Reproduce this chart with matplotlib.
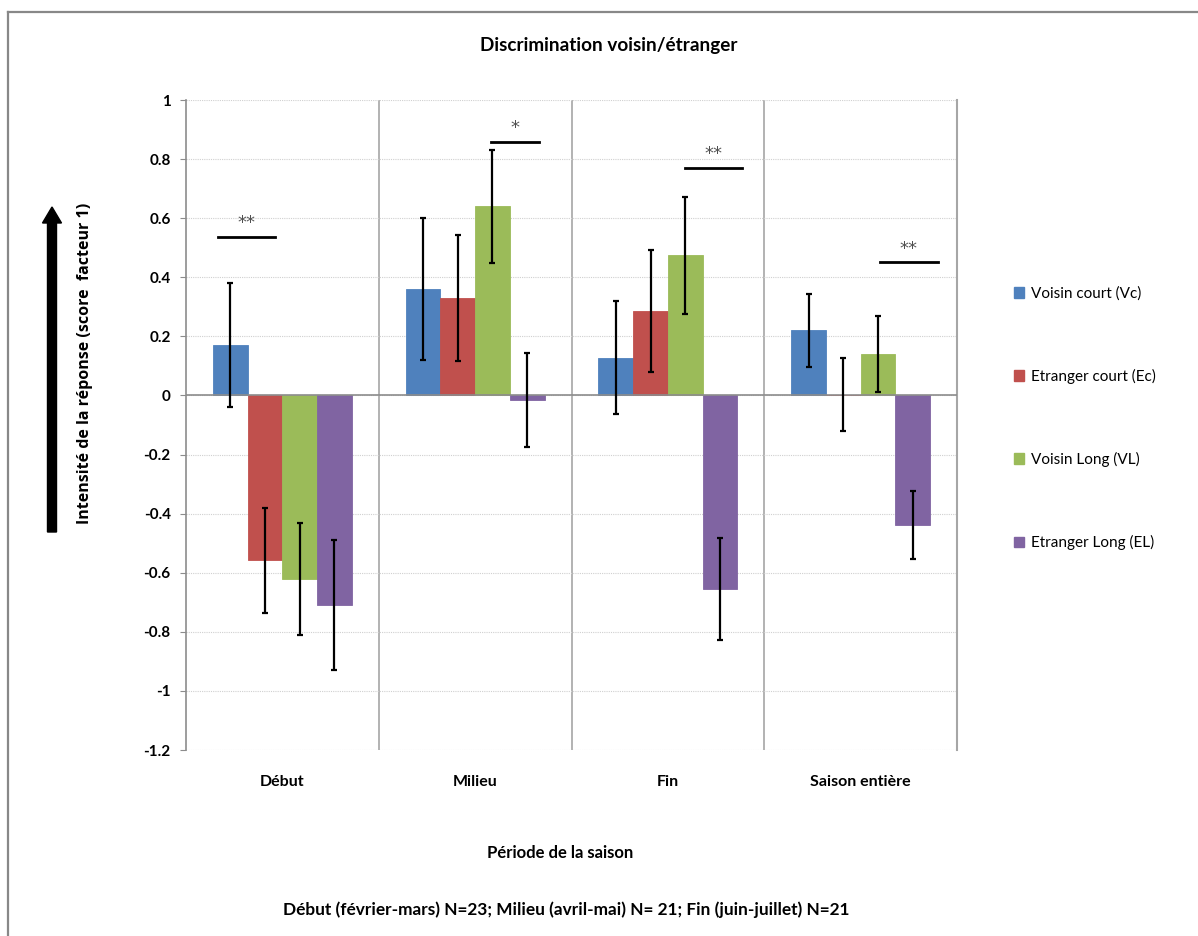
import numpy as np
import matplotlib
matplotlib.use("Agg")
import matplotlib.pyplot as plt
from matplotlib.lines import Line2D
from matplotlib.patches import Patch, FancyArrow

plt.rcParams["font.family"] = ["Lato", "DejaVu Sans"]

periods = ["Début", "Milieu", "Fin", "Saison entière"]
series_names = ["Voisin court (Vc)", "Etranger court (Ec)", "Voisin Long (VL)", "Etranger Long (EL)"]
colors = ["#4F81BD", "#C0504D", "#9BBB59", "#8064A2"]

# mean score per period, one list per series
voisin_court = [0.172, 0.36, 0.128, 0.22]
etranger_court = [-0.558, 0.33, 0.286, 0.003]
voisin_long = [-0.62, 0.64, 0.475, 0.141]
etranger_long = [-0.71, -0.015, -0.654, -0.438]

# error bar half-lengths
err_voisin_court = [0.21, 0.24, 0.192, 0.123]
err_etranger_court = [0.177, 0.213, 0.207, 0.123]
err_voisin_long = [0.19, 0.19, 0.198, 0.129]
err_etranger_long = [0.22, 0.16, 0.172, 0.116]

# significance marks: (period index, label, level)
sig_periods = [0, 1, 2, 3]
sig_labels = ["**", "*", "**", "**"]
sig_levels = [0.538, 0.859, 0.771, 0.451]

means = [voisin_court, etranger_court, voisin_long, etranger_long]
errors = [err_voisin_court, err_etranger_court, err_voisin_long, err_etranger_long]

fig = plt.figure(figsize=(11.98, 9.36), dpi=100)
ax = fig.add_axes([186 / 1198, 1 - 750 / 936, (957 - 186) / 1198, 650 / 936])

x = np.arange(len(periods))
width = 0.18
for i, (vals, errs, color) in enumerate(zip(means, errors, colors)):
    pos = x + (i - 1.5) * width
    ax.bar(pos, vals, width, color=color, edgecolor=color, linewidth=0.6,
           label=series_names[i], zorder=2)
    ax.errorbar(pos, vals, yerr=errs, fmt="none", ecolor="black",
                elinewidth=1.6, capsize=2.3, capthick=1.6, zorder=4)

# significance bars
sig_spans = [(-0.335, -0.04), (0.08, 0.33), (0.09, 0.385), (0.1, 0.4)]
for p, lab, lvl, (a, b) in zip(sig_periods, sig_labels, sig_levels, sig_spans):
    ax.plot([p + a, p + b], [lvl, lvl], color="black", lw=2, zorder=5)
    ax.text(p + (a + b) / 2, lvl + 0.015, lab, ha="center", va="bottom",
            fontsize=13, color="#505050", zorder=5, family=["DejaVu Sans"])

ax.set_xlim(-0.5, 3.5)
ax.set_ylim(-1.2, 1.0)
yt = np.round(np.arange(-1.2, 1.01, 0.2), 1) + 0.0
ax.set_yticks(yt)
ax.set_yticklabels([f"{v:g}" if v != 0 else "0" for v in yt])
ax.yaxis.grid(True, linestyle=(0, (1, 1)), color="#D0D0D0", lw=0.8, zorder=0)
ax.axhline(0, color="#8C8C8C", lw=1.2, zorder=3)
for b in [0.5, 1.5, 2.5]:
    ax.axvline(b, color="#A6A6A6", lw=1.2, zorder=1)

for side in ["top", "bottom"]:
    ax.spines[side].set_visible(False)
ax.spines["left"].set_color("#8C8C8C")
ax.spines["right"].set_color("#A6A6A6")
ax.spines["left"].set_linewidth(1.2)
ax.spines["right"].set_linewidth(1.5)

ax.tick_params(axis="y", length=4, color="#8C8C8C", pad=7, labelsize=11)
for t in ax.get_yticklabels():
    t.set_fontweight("bold")
ax.set_xticks([])
for xi, name in zip(x, periods):
    ax.text(xi, -1.31, name, ha="center", va="center", fontsize=11.5,
            fontweight="bold", transform=ax.transData)

fig.text(560 / 1198, 1 - 853 / 936, "Période de la saison", ha="center",
         va="center", fontsize=12, fontweight="bold")
fig.text(566 / 1198, 1 - 910 / 936,
         "Début (février-mars) N=23; Milieu (avril-mai) N= 21; Fin (juin-juillet) N=21",
         ha="center", va="center", fontsize=12.4, fontweight="bold")
fig.text(609 / 1198, 1 - 45 / 936, "Discrimination voisin/étranger", ha="center",
         va="center", fontsize=13.6, fontweight="bold")

fig.text(85 / 1198, 1 - 363 / 936, "Intensité de la réponse (score  facteur 1)",
         rotation=90, ha="center", va="center", fontsize=11.5, fontweight="bold",
         family=["Open Sans", "DejaVu Sans"])

# big arrow next to the y label
fig.patches.append(FancyArrow(52 / 1198, 1 - 532 / 936, 0, (532 - 207) / 936,
                              width=9 / 1198, head_width=19 / 1198,
                              head_length=16 / 936, length_includes_head=True,
                              color="black", transform=fig.transFigure))

handles = [Patch(facecolor=c, edgecolor=c) for c in colors]
fig.legend(handles, series_names, loc="upper left",
           bbox_to_anchor=(1000 / 1198, 1 - 273 / 936), frameon=False,
           fontsize=11, labelspacing=4.45, handlelength=0.7, handleheight=0.7,
           handletextpad=0.4)

# chart frame
fig.add_artist(Line2D([8 / 1198, 1], [1 - 12 / 936, 1 - 12 / 936], color="#888888",
                      lw=1.6, transform=fig.transFigure))
fig.add_artist(Line2D([8 / 1198, 8 / 1198], [0, 1 - 12 / 936], color="#888888",
                      lw=1.6, transform=fig.transFigure))

fig.savefig("out.png", dpi=100)
